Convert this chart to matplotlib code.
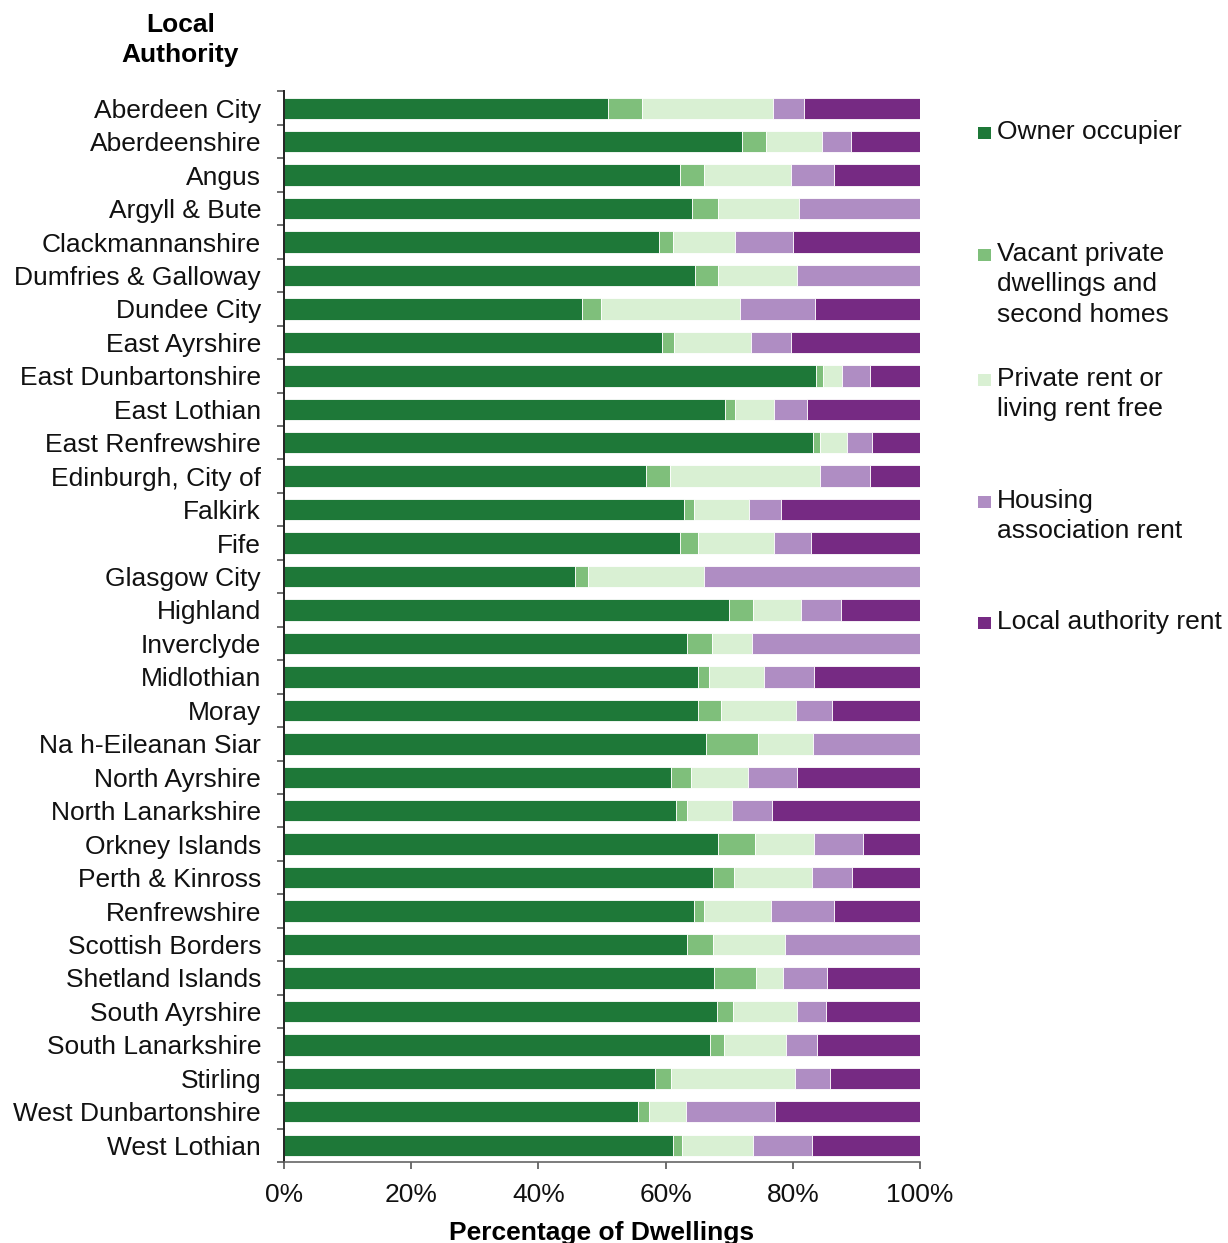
import matplotlib.pyplot as plt
from matplotlib.patches import Rectangle
from matplotlib.ticker import FixedLocator, PercentFormatter

plt.rcParams['font.family'] = ['Liberation Sans', 'DejaVu Sans']

authorities = ['Aberdeen City', 'Aberdeenshire', 'Angus', 'Argyll & Bute', 'Clackmannanshire',
               'Dumfries & Galloway', 'Dundee City', 'East Ayrshire', 'East Dunbartonshire',
               'East Lothian', 'East Renfrewshire', 'Edinburgh, City of', 'Falkirk', 'Fife',
               'Glasgow City', 'Highland', 'Inverclyde', 'Midlothian', 'Moray',
               'Na h-Eileanan Siar', 'North Ayrshire', 'North Lanarkshire', 'Orkney Islands',
               'Perth & Kinross', 'Renfrewshire', 'Scottish Borders', 'Shetland Islands',
               'South Ayrshire', 'South Lanarkshire', 'Stirling', 'West Dunbartonshire',
               'West Lothian']

# percentage of dwellings by tenure
owner = [50.9, 72.0, 62.3, 64.1, 58.9, 64.6, 46.8, 59.5, 83.7, 69.3, 83.2, 56.9, 62.9, 62.3,
         45.8, 69.9, 63.3, 65.1, 65.1, 66.4, 60.9, 61.7, 68.3, 67.4, 64.5, 63.4, 67.6, 68.0,
         67.0, 58.3, 55.6, 61.2]
vacant = [5.4, 3.8, 3.8, 4.1, 2.2, 3.6, 3.0, 1.8, 1.0, 1.6, 1.1, 3.8, 1.6, 2.8,
          2.0, 3.8, 4.0, 1.7, 3.6, 8.2, 3.1, 1.6, 5.7, 3.4, 1.6, 4.1, 6.6, 2.6,
          2.2, 2.6, 1.8, 1.3]
private = [20.6, 8.8, 13.6, 12.7, 9.8, 12.5, 21.9, 12.1, 3.0, 6.1, 4.2, 23.6, 8.6, 11.9,
           18.2, 7.6, 6.3, 8.6, 11.8, 8.6, 8.9, 7.1, 9.4, 12.2, 10.5, 11.2, 4.3, 10.0,
           9.7, 19.4, 5.8, 11.3]
housing_assoc = [4.8, 4.5, 6.7, 19.1, 9.2, 19.3, 11.8, 6.3, 4.5, 5.3, 4.0, 7.9, 5.0, 5.8,
                 34.0, 6.2, 26.4, 8.0, 5.7, 16.8, 7.8, 6.4, 7.6, 6.3, 9.9, 21.3, 6.9, 4.6,
                 4.9, 5.6, 14.0, 9.2]
council = [18.3, 10.9, 13.6, 0.0, 19.9, 0.0, 16.5, 20.3, 7.8, 17.7, 7.5, 7.8, 21.9, 17.2,
           0.0, 12.5, 0.0, 16.6, 13.8, 0.0, 19.3, 23.2, 9.0, 10.7, 13.5, 0.0, 14.6, 14.8,
           16.2, 14.1, 22.8, 17.0]

series = [owner, vacant, private, housing_assoc, council]
labels = ['Owner occupier', 'Vacant private\ndwellings and\nsecond homes',
          'Private rent or\nliving rent free', 'Housing\nassociation rent',
          'Local authority rent']
colors = ['#1e7838', '#7fbf7b', '#d9f0d3', '#af8dc3', '#762a83']

fs = 19

fig = plt.figure(figsize=(12.28, 12.43), dpi=100)
ax = fig.add_axes([0.2313, 0.0652, 0.5179, 0.8612])

y = list(range(len(authorities)))
left = [0.0] * len(authorities)
for vals, col in zip(series, colors):
    ax.barh(y, vals, left=left, height=0.64, color=col, edgecolor='white', linewidth=0.6)
    left = [a + b for a, b in zip(left, vals)]

ax.set_xlim(0, 100)
ax.set_ylim(len(authorities) - 0.5, -0.5)

ax.set_yticks(y)
ax.set_yticklabels(authorities, fontsize=fs, color='#111111')
ax.yaxis.set_minor_locator(FixedLocator([i - 0.5 for i in range(len(authorities) + 1)]))
ax.tick_params(axis='y', which='major', length=0, pad=16.5)
ax.tick_params(axis='y', which='minor', length=5, width=1.2, color='#555555')

ax.set_xticks([0, 20, 40, 60, 80, 100])
ax.xaxis.set_major_formatter(PercentFormatter(decimals=0))
ax.tick_params(axis='x', length=5, width=1.2, color='#555555', pad=10, labelsize=fs,
               labelcolor='#111111')
ax.set_xlabel('Percentage of Dwellings', fontsize=fs, fontweight='bold', labelpad=10)

for side in ['top', 'right']:
    ax.spines[side].set_visible(False)
ax.spines['left'].set_color('#222222')
ax.spines['left'].set_linewidth(1.4)
ax.spines['bottom'].set_color('#666666')
ax.spines['bottom'].set_linewidth(1.2)

fig.text(0.147, 0.968, 'Local\nAuthority', ha='center', va='center', fontsize=fs,
         fontweight='bold', linespacing=1.3)

# legend entries with the swatch beside the first line of each label
legend_y = [133, 255, 380, 502, 623]
for lab, col, py in zip(labels, colors, legend_y):
    yf = 1 - py / 1243
    fig.patches.append(Rectangle((978 / 1228, yf - 6 / 1243), 13 / 1228, 12 / 1243,
                                 transform=fig.transFigure, facecolor=col, edgecolor='none'))
    fig.text(997 / 1228, yf + 13 / 1243, lab, ha='left', va='top', fontsize=fs,
             color='#111111', linespacing=1.33)

fig.savefig('out.png', dpi=100)
